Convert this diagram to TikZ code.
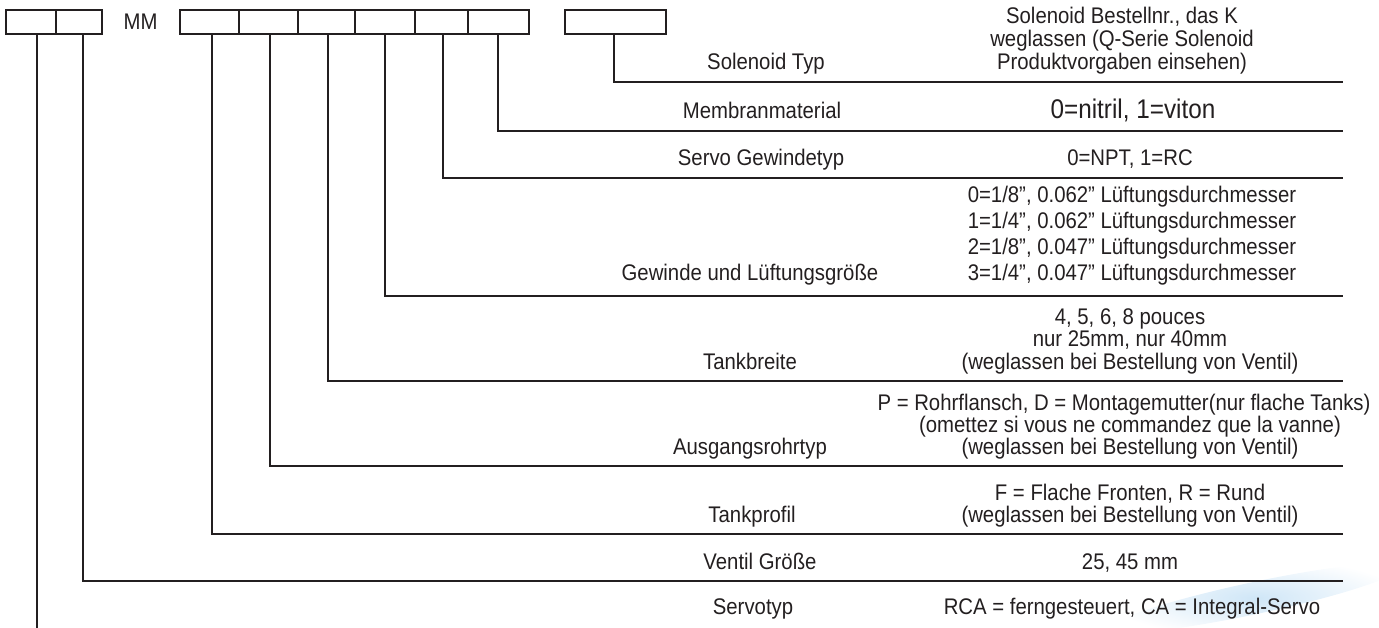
\documentclass[tikz,border=0pt]{standalone}
\usepackage{fontspec}
\setmainfont[FakeStretch=0.9]{Liberation Sans}
\definecolor{ink}{HTML}{231F20}
\definecolor{haze}{HTML}{CFE6F7}
\begin{document}
\begin{tikzpicture}[x=1pt,y=-1pt,
  cell/.style={draw=ink, line width=2pt, minimum height=24pt, inner sep=0pt, outer sep=0pt},
  lead/.style={draw=ink, line width=2pt},
  txt/.style={anchor=base, inner sep=0pt, text=ink, font=\fontsize{22.6}{24}\selectfont},
  big/.style={txt, font=\fontsize{27}{29}\selectfont}]
\useasboundingbox (0,0) rectangle (1379,628);
% faint blue haze (bottom right)
\begin{scope}
\clip (0,0) rectangle (1379,628);
\shade[inner color=haze, outer color=white, rotate around={12:(1255,598)}]
  (1255,598) ellipse [x radius=150, y radius=16];
\end{scope}
% boxes
\node[cell, minimum width=50pt]   (b1) at (30.7,22) {};
\node[cell, minimum width=46.3pt] (b2) at (78.85,22) {};
\node[txt, anchor=center] (mm) at (140.5,22) {MM};
\node[cell, minimum width=59pt]  (b3) at (209.5,22) {};
\node[cell, minimum width=59pt]  (b4) at (268.5,22) {};
\node[cell, minimum width=57pt]  (b5) at (326.5,22) {};
\node[cell, minimum width=60pt]  (b6) at (385,22) {};
\node[cell, minimum width=53pt]  (b7) at (441.5,22) {};
\node[cell, minimum width=61pt]  (b8) at (498.5,22) {};
\node[cell, minimum width=101pt] (b9) at (615.5,22) {};
% line ends
\coordinate (e0) at (36.7,628);
\coordinate (e1) at (1343,82);
\coordinate (e2) at (1343,131);
\coordinate (e3) at (1343,178);
\coordinate (e4) at (1343,296);
\coordinate (e5) at (1343,381);
\coordinate (e6) at (1343,466);
\coordinate (e7) at (1343,534);
\coordinate (e8) at (1343,581);
% connectors
\draw[lead] ([xshift=6pt]b1.south) -- (e0);
\draw[lead] ([xshift=3.85pt]b2.south) |- (e8);
\draw[lead] ([xshift=2.5pt]b3.south) |- (e7);
\draw[lead] ([xshift=1.5pt]b4.south) |- (e6);
\draw[lead] ([xshift=1.5pt]b5.south) |- (e5);
\draw[lead] (b6.south) |- (e4);
\draw[lead] ([xshift=1.5pt]b7.south) |- (e3);
\draw[lead] ([xshift=-0.5pt]b8.south) |- (e2);
\draw[lead] ([xshift=-1.5pt]b9.south) |- (e1);
% Solenoid
\node[txt] (l1) at (766,70) {Solenoid Typ};
\node[txt] (r1a) at (1122,24) {Solenoid Bestellnr., das K};
\node[txt] (r1b) at (1122,47) {weglassen (Q-Serie Solenoid};
\node[txt] (r1c) at (1122,70) {Produktvorgaben einsehen)};
% Membran
\node[txt] (l2) at (762,119) {Membranmaterial};
\node[big] (r2) at (1133,119) {0=nitril, 1=viton};
% Servo Gewinde
\node[txt] (l3) at (761,166) {Servo Gewindetyp};
\node[txt] (r3) at (1130,166) {0=NPT, 1=RC};
% Gewinde
\node[txt] (l4) at (750,281) {Gewinde und Lüftungsgröße};
\node[txt] (r4a) at (1132,203) {0=1/8”, 0.062” Lüftungsdurchmesser};
\node[txt] (r4b) at (1132,229) {1=1/4”, 0.062” Lüftungsdurchmesser};
\node[txt] (r4c) at (1132,255) {2=1/8”, 0.047” Lüftungsdurchmesser};
\node[txt] (r4d) at (1132,281) {3=1/4”, 0.047” Lüftungsdurchmesser};
% Tankbreite
\node[txt] (l5) at (750,369) {Tankbreite};
\node[txt] (r5a) at (1130,325) {4, 5, 6, 8 pouces};
\node[txt] (r5b) at (1130,347) {nur 25mm, nur 40mm};
\node[txt] (r5c) at (1130,369) {(weglassen bei Bestellung von Ventil)};
% Ausgangsrohr
\node[txt] (l6) at (750,454) {Ausgangsrohrtyp};
\node[txt] (r6a) at (1124,410) {P = Rohrflansch, D = Montagemutter(nur flache Tanks)};
\node[txt] (r6b) at (1130,432) {(omettez si vous ne commandez que la vanne)};
\node[txt] (r6c) at (1130,454) {(weglassen bei Bestellung von Ventil)};
% Tankprofil
\node[txt] (l7) at (752,522) {Tankprofil};
\node[txt] (r7a) at (1130,500) {F = Flache Fronten, R = Rund};
\node[txt] (r7b) at (1130,522) {(weglassen bei Bestellung von Ventil)};
% Ventil
\node[txt] (l8) at (760,569) {Ventil Größe};
\node[txt] (r8) at (1130,569) {25, 45 mm};
% Servotyp
\node[txt] (l9) at (753,614) {Servotyp};
\node[txt] (r9) at (1132,614) {RCA = ferngesteuert, CA = Integral-Servo};
\end{tikzpicture}
\end{document}
